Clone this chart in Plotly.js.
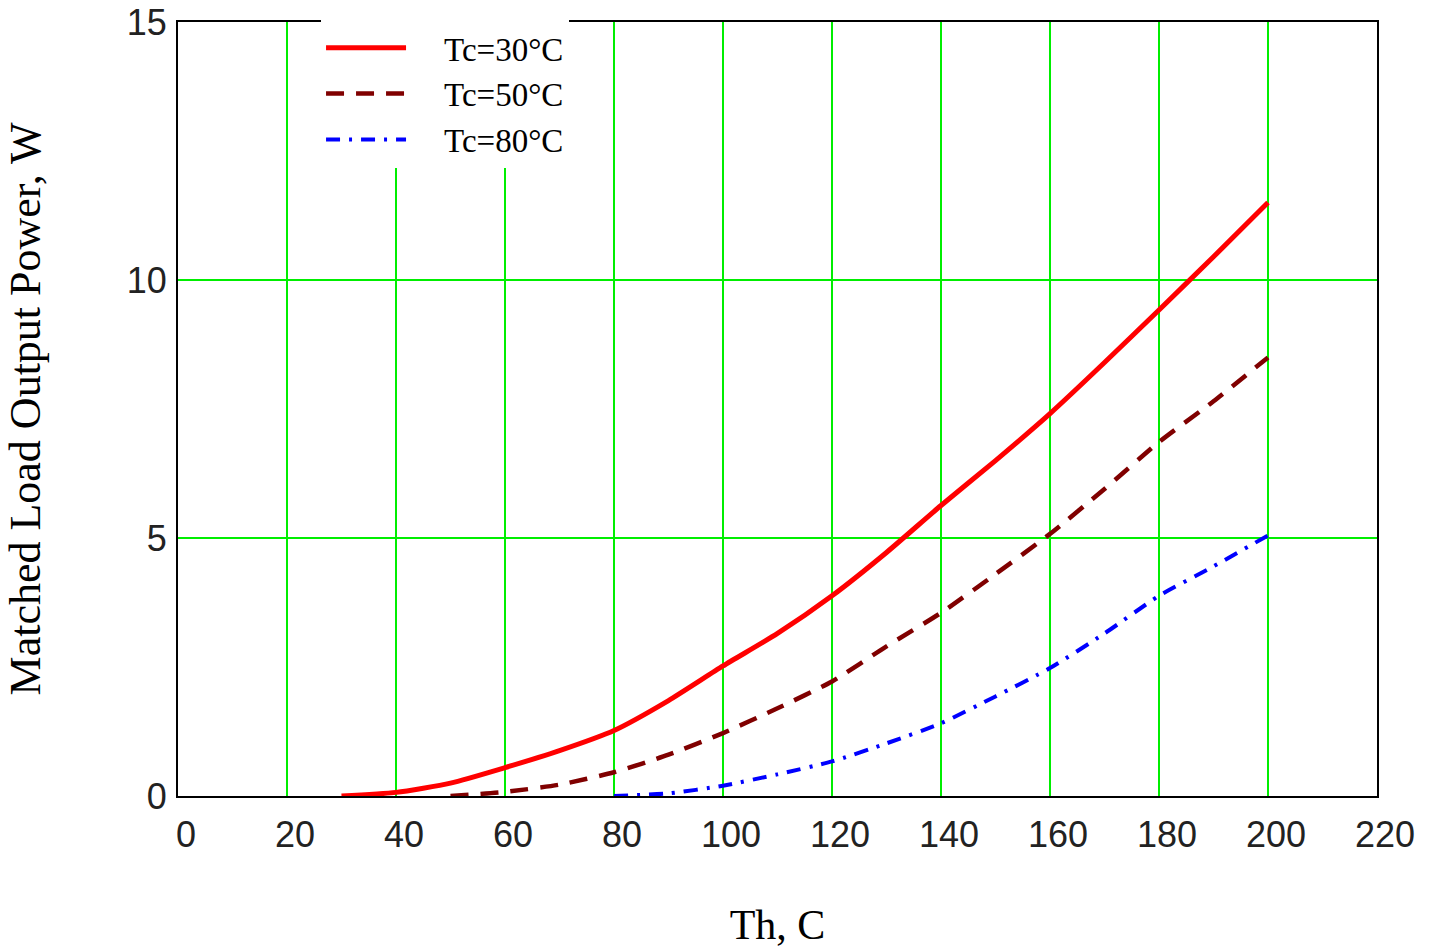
<!DOCTYPE html>
<html>
<head>
<meta charset="utf-8">
<script src="https://cdn.plot.ly/plotly-3.0.1.min.js"></script>
<style>html,body{margin:0;padding:0;background:#fff;}#chart{width:1435px;height:948px;}</style>
</head>
<body>
<div id="chart"></div>
<script>
// Th, C
const th30 = [30,40,50,60,70,80,90,100,110,120,130,140,150,160,170,180,190,200];
const p30  = [0,0.07,0.25,0.55,0.88,1.27,1.85,2.52,3.15,3.88,4.72,5.63,6.5,7.41,8.4,9.42,10.45,11.5];
const th50 = [50,60,70,80,90,100,110,120,130,140,150,160,170,180,190,200];
const p50  = [0,0.08,0.22,0.46,0.8,1.22,1.7,2.22,2.9,3.55,4.3,5.08,5.95,6.86,7.65,8.5];
const th80 = [80,90,100,110,120,130,140,150,160,170,180,190,200];
const p80  = [0,0.05,0.2,0.42,0.67,1.02,1.41,1.93,2.48,3.15,3.88,4.45,5.05];
const seriesNames = ["Tc=30°C","Tc=50°C","Tc=80°C"];
const xTicks = [0,20,40,60,80,100,120,140,160,180,200,220];
const yTicks = [0,5,10,15];

const pad = '\u00a0\u00a0\u00a0\u00a0';
const traces = [
  {x: th30, y: p30, name: pad + seriesNames[0], mode: 'lines', line: {color: '#ff0000', width: 5, shape: 'spline', smoothing: 0.6}},
  {x: th50, y: p50, name: pad + seriesNames[1], mode: 'lines', line: {color: '#800000', width: 4.5, dash: '18px,12px', shape: 'spline', smoothing: 0.6}},
  {x: th80, y: p80, name: pad + seriesNames[2], mode: 'lines', line: {color: '#0000ff', width: 4, dash: '14px,9px,3px,9px', shape: 'spline', smoothing: 0.6}}
];

const tickFont = {family: 'Liberation Sans, Arial, sans-serif', size: 36, color: '#222'};
const serif = 'Liberation Serif, Times New Roman, serif';

const layout = {
  width: 1435, height: 948,
  margin: {l: 178, r: 58, t: 22, b: 152},
  paper_bgcolor: '#fff', plot_bgcolor: '#fff',
  showlegend: true,
  legend: {
    x: 0.1193, y: 1.003, xanchor: 'left', yanchor: 'top',
    bgcolor: '#ffffff', borderwidth: 0,
    font: {family: serif, size: 33, color: '#000'},
    itemwidth: 80,
    tracegroupgap: 0
  },
  xaxis: {
    range: [0, 220], tickvals: xTicks, ticktext: xTicks.map(String),
    showgrid: true, gridcolor: '#00ee00', gridwidth: 2,
    zeroline: false, showline: true, mirror: true, linecolor: '#000', linewidth: 2,
    ticks: '', tickfont: tickFont, ticklabelshift: 8, ticklabelstandoff: 6,
    title: {text: 'Th, C', font: {family: serif, size: 42, color: '#000'}, standoff: 58}
  },
  yaxis: {
    range: [0, 15], tickvals: yTicks, ticktext: yTicks.map(String),
    showgrid: true, gridcolor: '#00ee00', gridwidth: 2,
    zeroline: false, showline: true, mirror: true, linecolor: '#000', linewidth: 2,
    ticks: '', tickfont: tickFont, ticklabelstandoff: 2,
    title: {text: 'Matched Load Output Power, W', font: {family: serif, size: 44, color: '#000'}, standoff: 72}
  }
};

Plotly.newPlot('chart', traces, layout, {displayModeBar: false, staticPlot: true});
</script>
</body>
</html>
